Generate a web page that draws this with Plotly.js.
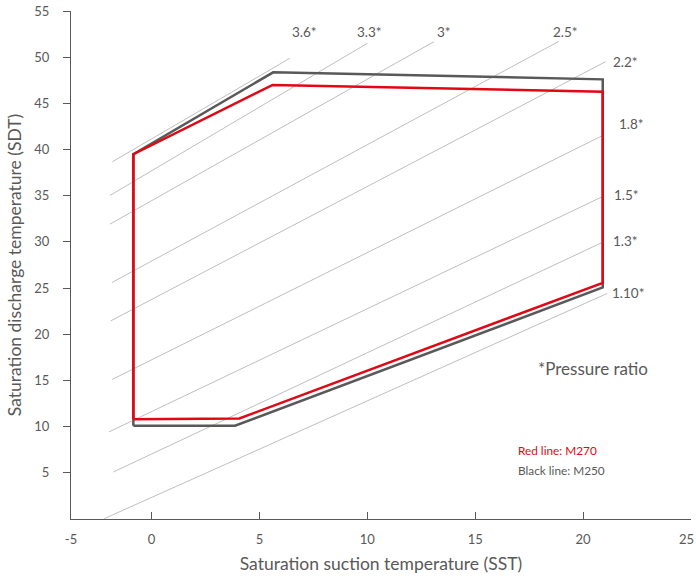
<!DOCTYPE html>
<html>
<head>
<meta charset="utf-8">
<script src="https://cdn.plot.ly/plotly-3.0.1.min.js"></script>
<style>
  html, body { margin: 0; padding: 0; background: #fff; }
  #chart { width: 696px; height: 580px; }
</style>
</head>
<body>
<div id="chart"></div>
<script>
// ---- Data ----
// Operating envelope, M250 (black line)
const m250X = [-0.84, 3.87, 20.91, 20.91, 5.64, -0.84, -0.84];
const m250Y = [10.1, 10.1, 25.07, 47.6, 48.36, 39.5, 10.1];
// Operating envelope, M270 (red line)
const m270X = [-0.84, 4.07, 20.91, 20.91, 5.61, -0.84, -0.84];
const m270Y = [10.8, 10.88, 25.57, 46.26, 46.99, 39.5, 10.8];

// Pressure-ratio reference lines
const ratioLabels = ['3.6*', '3.3*', '3*', '2.5*', '2.2*', '1.8*', '1.5*', '1.3*', '1.10*'];
const ratioStartX = [-1.81, -1.92, -1.92, -1.83, -1.89, -1.83, -1.97, -1.77, -2.19];
const ratioStartY = [38.68, 35.04, 31.93, 25.61, 21.45, 15.10, 9.43, 5.09, 0.04];
const ratioEndX   = [6.41, 10.01, 13.09, 18.88, 21.04, 20.95, 20.95, 20.95, 21.12];
const ratioEndY   = [49.88, 51.51, 51.68, 51.72, 49.51, 41.57, 34.96, 30.01, 24.42];
// Where each ratio label sits (data coordinates)
const ratioLabelX = [7.11, 10.12, 13.54, 19.18, 21.95, 22.25, 22.0, 21.97, 22.06];
const ratioLabelY = [52.73, 52.73, 52.73, 52.73, 49.48, 42.81, 35.07, 30.12, 24.49];

// Axis ticks
const xTickVals = [-3.73, 0, 5, 10, 15, 20, 25];
const xTickText = ['-5', '0', '5', '10', '15', '20', ''];
const xLastTickLabel = '25';
const yTickVals = [5, 10, 15, 20, 25, 30, 35, 40, 45, 50, 55];

// ---- Build traces ----
const FONT = 'Lato, "Open Sans", sans-serif';
const TXT = '#595959';
const traces = [];

ratioLabels.forEach((lab, i) => {
  traces.push({
    type: 'scatter', mode: 'lines',
    x: [ratioStartX[i], ratioEndX[i]],
    y: [ratioStartY[i], ratioEndY[i]],
    line: { color: '#bfbfbf', width: 1 },
    hoverinfo: 'skip', showlegend: false, name: lab
  });
});

traces.push({
  type: 'scatter', mode: 'lines', name: 'M250',
  x: m250X, y: m250Y,
  line: { color: '#595959', width: 2.5 },
  showlegend: false
});
traces.push({
  type: 'scatter', mode: 'lines', name: 'M270',
  x: m270X, y: m270Y,
  line: { color: '#e30613', width: 2.5 },
  showlegend: false
});

const annotations = ratioLabels.map((lab, i) => ({
  x: ratioLabelX[i], y: ratioLabelY[i], xref: 'x', yref: 'y',
  text: lab, showarrow: false, xanchor: 'center', yanchor: 'middle',
  font: { family: FONT, size: 13.5, color: TXT }
}));
annotations.push({
  x: 20.44, y: 16.29, xref: 'x', yref: 'y', text: '*Pressure ratio',
  showarrow: false, xanchor: 'center', yanchor: 'middle',
  font: { family: FONT, size: 17, color: TXT }
});
annotations.push({
  x: 16.91, y: 7.44, xref: 'x', yref: 'y', text: 'Red line: M270',
  showarrow: false, xanchor: 'left', yanchor: 'middle',
  font: { family: FONT, size: 11.8, color: '#e30613' }
});
annotations.push({
  x: 16.91, y: 5.2, xref: 'x', yref: 'y', text: 'Black line: M250',
  showarrow: false, xanchor: 'left', yanchor: 'middle',
  font: { family: FONT, size: 11.8, color: TXT }
});
// last x tick label, kept inside the page edge
annotations.push({
  x: 25, y: 0, xref: 'x', yref: 'y', text: xLastTickLabel,
  showarrow: false, xanchor: 'right', yanchor: 'top',
  xshift: 4, yshift: -11, borderpad: 0,
  font: { family: FONT, size: 13, color: TXT }
});

const layout = {
  width: 696, height: 580,
  margin: { l: 71, r: 5, t: 11, b: 61, pad: 0 },
  paper_bgcolor: '#ffffff', plot_bgcolor: '#ffffff',
  font: { family: FONT, color: TXT, size: 13 },
  showlegend: false,
  xaxis: {
    range: [-3.73, 25],
    tickvals: xTickVals, ticktext: xTickText,
    ticks: 'inside', ticklen: 7, tickcolor: '#595959', tickwidth: 1,
    showline: true, linecolor: '#595959', linewidth: 1,
    showgrid: false, zeroline: false,
    ticklabelstandoff: 8,
    tickfont: { family: FONT, size: 13, color: TXT },
    title: { text: 'Saturation suction temperature (SST)', standoff: 12,
             font: { family: FONT, size: 17.5, color: TXT } },
    automargin: false
  },
  yaxis: {
    range: [0, 55],
    tickvals: yTickVals,
    ticks: 'outside', ticklen: 7, tickcolor: '#595959', tickwidth: 1,
    showline: true, linecolor: '#595959', linewidth: 1,
    showgrid: false, zeroline: false,
    ticklabelstandoff: 11,
    ticklabeloverflow: 'allow',
    tickfont: { family: FONT, size: 13, color: TXT },
    title: { text: 'Saturation discharge temperature (SDT)', standoff: 8,
             font: { family: FONT, size: 17.5, color: TXT } },
    automargin: false
  },
  annotations: annotations
};

Plotly.newPlot('chart', traces, layout, { displayModeBar: false, staticPlot: true });
</script>
</body>
</html>
